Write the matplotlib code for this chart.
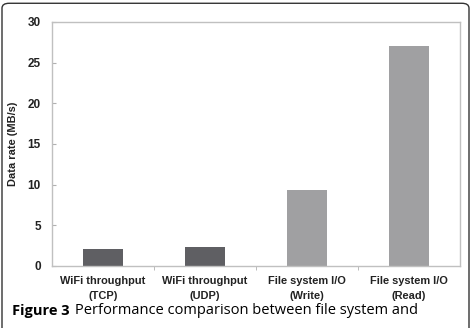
import matplotlib.pyplot as plt
from matplotlib.patches import FancyBboxPatch
import numpy as np

# data
categories = ["WiFi throughput\n(TCP)", "WiFi throughput\n(UDP)",
              "File system I/O\n(Write)", "File system I/O\n(Read)"]
rates = [2.1, 2.3, 9.35, 27.05]
bar_colors = ["#5f5f63", "#5f5f63", "#a0a0a2", "#a0a0a2"]
yticks = [0, 5, 10, 15, 20, 25, 30]

fig = plt.figure(figsize=(4.72, 3.28), dpi=100)
ax = fig.add_axes([52/472, 1 - 266/328, 408/472, 244/328])

x = np.arange(len(categories))
ax.bar(x, rates, width=0.39, color=bar_colors)

ax.set_xlim(-0.5, len(categories) - 0.5)
ax.set_ylim(0, 30)
ax.set_yticks(yticks)
ax.set_xticks(x)
ax.set_xticklabels(categories, fontsize=7.9, fontweight="bold",
                   family="Liberation Sans", linespacing=1.7, color="#222222")
ax.set_yticklabels([str(t) for t in yticks], fontsize=8.5,
                   fontweight="bold", family="Liberation Sans", color="#222222")
ax.tick_params(axis="x", length=0, pad=7)
ax.tick_params(axis="y", direction="in", length=3, color="#b0b0b0", pad=8)
ax.set_xticks([0.5, 1.5, 2.5], minor=True)
ax.tick_params(axis="x", which="minor", direction="out", length=3, color="#b0b0b0")

for s in ax.spines.values():
    s.set_color("#c0c0c0")
    s.set_linewidth(1.0)

ax.set_ylabel("Data rate (MB/s)", fontsize=7.9, fontweight="bold",
              family="Liberation Sans", color="#222222")
ax.yaxis.set_label_coords((18 - 52) / 408, 0.5)

# rounded frame around the figure panel
frame = FancyBboxPatch((2/472, -0.2), 467/472, 1.19, transform=fig.transFigure,
                       boxstyle="round,pad=0,rounding_size=0.015",
                       fill=False, edgecolor="#333333", linewidth=1.0)
fig.patches.append(frame)

fig.text(12/472, 1 - 311/328, "Figure 3", fontsize=10.5, fontweight="bold",
         family="Open Sans", va="center", ha="left")
fig.text(75/472, 1 - 311/328, "Performance comparison between file system and",
         fontsize=10.5, family="Open Sans", va="center", ha="left")

fig.savefig("out.png", dpi=100)
